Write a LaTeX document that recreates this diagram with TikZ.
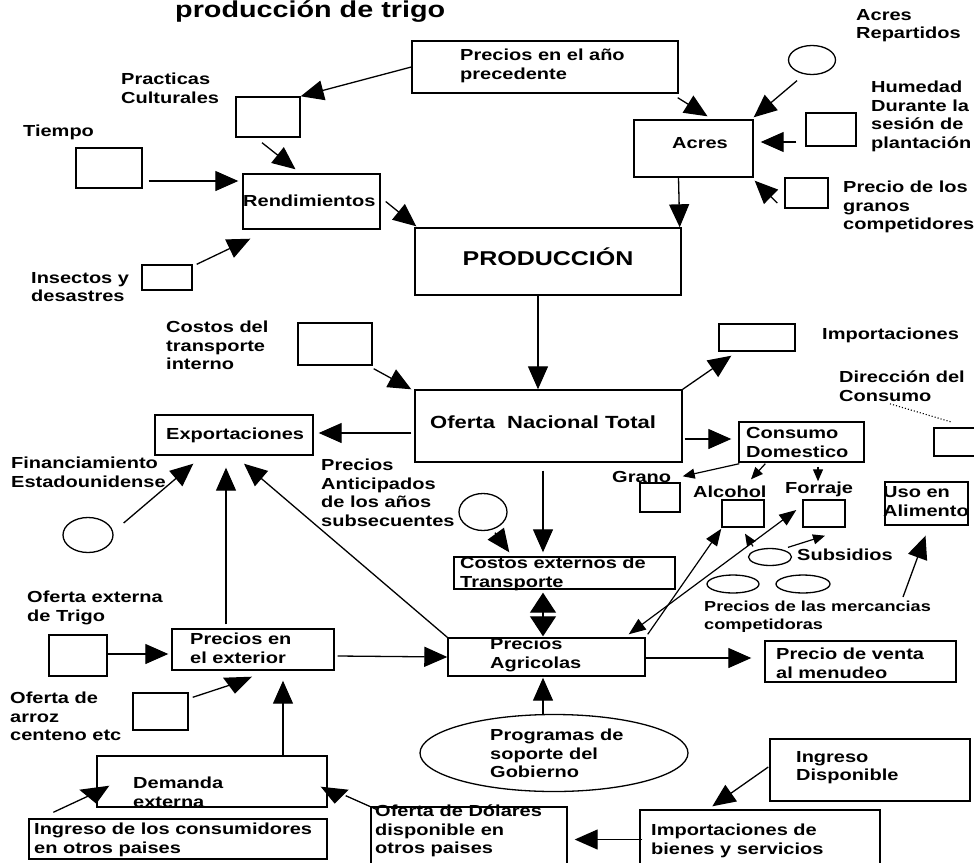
\documentclass[tikz,border=0pt]{standalone}
\usepackage{fontspec}
\setmainfont{Liberation Sans}[FakeStretch=1.25]
\usetikzlibrary{arrows.meta,shapes.geometric,calc}
\newcommand\boxat[5]{\node[box, minimum width={(#4)-(#2)}, minimum height={(#5)-(#3)}] (#1) at ({((#2)+(#4))/2},{((#3)+(#5))/2}) {};}
\newcommand\ellat[5]{\node[ell, minimum width=#4, minimum height=#5] (#1) at (#2,#3) {};}
\tikzset{
  box/.style={draw, line width=1.4pt, inner sep=0pt, rectangle},
  ell/.style={draw, line width=1.3pt, ellipse, inner sep=0pt},
  conn/.style={line width=1.3pt},
  arr/.style={conn, -{Triangle[length=23pt,width=20pt]}},
  marr/.style={line width=1.2pt, -{Triangle[length=17pt,width=13pt]}},
  sarr/.style={line width=1.2pt, -{Triangle[length=12pt,width=10pt]}},
  darr/.style={conn, {Triangle[length=20pt,width=26pt]}-{Triangle[length=20pt,width=26pt]}},
  mdarr/.style={line width=1.2pt, {Triangle[length=17pt,width=13pt]}-{Triangle[length=17pt,width=13pt]}},
  lb/.style={font=\fontsize{16}{18.5}\selectfont\bfseries, align=left, anchor=north west, inner sep=0pt},
  lbs/.style={font=\fontsize{16}{18.5}\selectfont\bfseries, anchor=base west, inner sep=0pt},
  rg/.style={font=\fontsize{16}{19}\selectfont\bfseries, align=left, anchor=north west, inner sep=0pt},
  rgs/.style={font=\fontsize{16}{19}\selectfont\bfseries, anchor=base west, inner sep=0pt},
}
\begin{document}
\begin{tikzpicture}[x=1pt,y=-1pt]
\useasboundingbox (0,0) rectangle (974,862);
\fill[white] (0,0) rectangle (974,862);

% title
\node[font=\fontsize{23}{26}\selectfont\bfseries, anchor=base west, inner sep=0pt] (title) at (175,17) {producción de trigo};

% boxes
\boxat{pyear}{412}{41}{678}{93}
\boxat{pcult}{236}{97}{300}{137}
\boxat{tiempo}{76}{148}{142}{188}
\boxat{rend}{243}{174}{380}{229}
\boxat{insect}{142}{265}{192}{290}
\boxat{prod}{415}{228}{681}{295}
\boxat{acres}{634}{120}{753}{177}
\boxat{hum}{806}{113}{856}{146}
\boxat{pgran}{785}{178}{828}{208}
\boxat{ctrans}{298}{323}{372}{365}
\boxat{oferta}{415}{390}{682}{462}
\boxat{import}{719}{324}{795}{351}
\boxat{export}{155}{415}{313}{455}
\boxat{cext}{454}{557}{675}{589}
\boxat{pagr}{448}{638}{645}{676}
\boxat{pventa}{765}{641}{956}{682}
\boxat{consumo}{739}{422}{864}{462}
\boxat{grano}{640}{483}{680}{512}
\boxat{alcohol}{722}{500}{764}{527}
\boxat{forraje}{803}{500}{845}{527}
\boxat{uso}{885}{482}{968}{525}
\boxat{dir}{934}{428}{990}{456}
\boxat{pext}{172}{629}{334}{670}
\boxat{otrigo}{49}{635}{107}{676}
\boxat{oarroz}{133}{693}{188}{730}
\boxat{demanda}{97}{756}{327}{807}
\boxat{ingcons}{29}{819}{327}{859}
\boxat{dolares}{371}{807}{567}{875}
\boxat{impbs}{640}{810}{880}{875}
\boxat{ingdisp}{770}{739}{970}{801}

% ellipses
\ellat{erep}{812}{60}{47}{29}
\ellat{efin}{88}{535}{50}{35}
\ellat{eant}{483}{512}{48}{37}
\ellat{esub}{770}{557}{43}{17}
\ellat{ecompa}{733}{584}{52}{18}
\ellat{ecompb}{803}{584}{54}{18}
\ellat{eprog}{554}{753}{268}{77}

% labels
\node[lb] (tpcult) at (121,73) {Practicas\\Culturales};
\node[lbs] (ttiempo) at (23,136) {Tiempo};
\node[lb] (tinsect) at (31,272) {Insectos y\\desastres};
\node[lb] (trep) at (856,9) {Acres\\Repartidos};
\node[lb] (thum) at (871,81) {Humedad\\Durante la\\sesión de\\plantación};
\node[lb] (tpgran) at (843,181) {Precio de los\\granos\\competidores};
\node[lb] (tctrans) at (166,321) {Costos del\\transporte\\interno};
\node[lbs] (timport) at (822,339) {Importaciones};
\node[lb] (tfin) at (11,457) {Financiamiento\\Estadounidense};
\node[lb] (tant) at (321,459) {Precios\\Anticipados\\de los años\\subsecuentes};
\node[lb] (dirl) at (839,371) {Dirección del\\Consumo};
\node[lbs] (tsub) at (797,560) {Subsidios};
\node[lb, font=\fontsize{14.5}{17.5}\selectfont\bfseries] (tcomp) at (704,601) {Precios de las mercancias\\competidoras};
\node[lb] (totrigo) at (27,591) {Oferta externa\\de Trigo};
\node[lb] (toarroz) at (10,692) {Oferta de\\arroz\\centeno etc};

% box texts
\node[lb] (tpyear) at (460,49) {Precios en el año\\precedente};
\node[font=\fontsize{16}{18.5}\selectfont\bfseries, inner sep=0pt] (tacres) at (700,143) {Acres};
\node[rgs] (trend) at (243,206) {Rendimientos};
\node[font=\fontsize{20}{22}\selectfont\bfseries, anchor=base, inner sep=0pt] (tprod) at (548,265) {PRODUCCIÓN};
\node[font=\fontsize{17.6}{21}\selectfont\bfseries, anchor=base west, inner sep=0pt] (toferta) at (430,428) {Oferta\ \ Nacional Total};
\node[lbs] (texport) at (166,439) {Exportaciones};
\node[rg] (tconsumo) at (746,427) {Consumo\\Domestico};
\node[rgs] (tgrano) at (612,482) {Grano};
\node[rgs] (talcohol) at (693,497) {Alcohol};
\node[rgs] (tforraje) at (785,493) {Forraje};
\node[rg] (tuso) at (883,486) {Uso en\\Alimento};
\node[rg] (tcext) at (460,557) {Costos externos de\\Transporte};
\node[rg] (tpagr) at (490,638) {Precios\\Agricolas};
\node[rg] (tpventa) at (776,648) {Precio de venta\\al menudeo};
\node[lb] (tprog) at (490,729) {Programas de\\soporte del\\Gobierno};
\node[lb] (tpext) at (190,633) {Precios en\\el exterior};
\node[rg] (tdemanda) at (133,777) {Demanda\\externa};
\node[rg] (tingcons) at (34,823) {Ingreso de los consumidores\\en otros paises};
\node[lb] (tdolares) at (375,805) {Oferta de Dólares\\disponible en\\otros paises};
\node[lb] (timpbs) at (651,824) {Importaciones de\\bienes y servicios};
\node[lb] (tingdisp) at (796,751) {Ingreso\\Disponible};

% connectors
\draw[arr] (pyear.west) -- (pcult.north east);
\draw[arr] ($(pcult.south)+(-6,5)$) -- ($(rend.north)+(-16,-4)$);
\draw[arr] ($(tiempo.east)+(6,13)$) -- ($(rend.west)+(-4,-20.5)$);
\draw[arr] ($(insect.north east)+(4,0)$) -- ($(rend.south west)+(8,9)$);
\draw[arr] ($(rend.east)+(5,0)$) -- ($(prod.north west)+(2,-1)$);
\draw[arr] ($(acres.south)+(-15,0)$) -- ($(prod.north east)+(-2,0)$);
\draw[arr] ($(pyear.south east)+(-1,4)$) -- ($(acres.north)+(14,-3)$);
\draw[arr] ($(erep.south)+(-15,5.5)$) -- ($(acres.north east)+(0,-2)$);
\draw[arr] ($(hum.west)+(-9,12.5)$) -- ($(acres.east)+(7,-6.5)$);
\draw[arr] ($(pgran.west)+(-7,10)$) -- ($(acres.south east)+(1,3)$);
\draw[arr] ($(prod.south)+(-10,0)$) -- ($(oferta.north)+(-10.5,0)$);
\draw[arr] ($(ctrans.south east)+(1,3)$) -- ($(oferta.north west)+(-3,0)$);
\draw[arr] (oferta.north east) -- ($(import.south west)+(13,4)$);
\draw[arr] ($(oferta.west)+(-3,7)$) -- ($(export.east)+(5,-2)$);
\draw[arr] ($(oferta.east)+(2,13)$) -- ($(consumo.west)+(-7,-3)$);
\draw[arr] ($(oferta.south)+(-5.5,8)$) -- ($(cext.north)+(-21.5,-4)$);
\draw[arr] ($(eant.south)+(12,1.5)$) -- ($(cext.north west)+(56,-4)$);
\draw[darr] ($(cext.south)+(-21.5,3)$) -- ($(pagr.north)+(-3.5,-1)$);
\draw[arr] ($(pext.east)+(3,6.5)$) -- (pagr.west);
\draw[arr] ($(pagr.east)+(0,1)$) -- ($(pventa.west)+(-13,-3.5)$);
\draw[arr] ($(eprog.north)+(-11,0)$) -- ($(pagr.south)+(-3.5,1)$);
\draw[arr] ($(pext.north)+(-27,-4)$) -- ($(export.south)+(-8,12)$);
\draw[arr] (pagr.north west) -- ($(export.south)+(10,8)$);
\draw[arr] ($(efin.east)+(10,-12)$) -- ($(export.south west)+(39,8)$);
\draw[sarr] ($(consumo.south west)+(1,1)$) -- ($(grano.north east)+(2,-6)$);
\draw[sarr] ($(consumo.south west)+(27,1)$) -- ($(alcohol.north)+(8,-20)$);
\draw[sarr] ($(consumo.south)+(16.5,4)$) -- ($(forraje.north)+(-6,-18)$);
\draw[marr] ($(pagr.north east)+(2,-3)$) -- ($(alcohol.south west)+(0,1)$);
\draw[mdarr] ($(forraje.west)+(-6,-3.5)$) -- ($(pagr.north east)+(-17,-3)$);
\draw[sarr] ($(esub.north)+(-17,-1.5)$) -- ($(alcohol.south)+(2,6)$);
\draw[sarr] ($(esub.north)+(18,-0.5)$) -- ($(forraje.south)+(1,8)$);
\coordinate (usotail) at (903,597);
\draw[arr] (usotail) -- ($(uso.south)+(-1,10)$);
\draw[dotted, line width=1.1pt] ($(dirl.south)+(-12,2)$) -- ($(dir.north west)+(19,-5)$);
\draw[arr] ($(otrigo.east)+(0,-1.5)$) -- ($(pext.west)+(-3,4.5)$);
\draw[arr] ($(demanda.north)+(71,0)$) -- ($(pext.south)+(30,10)$);
\draw[arr] ($(impbs.west)+(3,-3)$) -- ($(dolares.east)+(7,-1.5)$);
\draw[arr] ($(ingdisp.west)+(-1,-3)$) -- ($(impbs.north west)+(73,-3)$);

% connectors with heads drawn as in the source
\draw[conn] ($(oarroz.north east)+(4,5)$) -- ($(pext.south)+(-22,14)$);
\fill ($(pext.south)+(-30,7)$) -- ($(pext.south)+(-1,6)$) -- ($(pext.south)+(-18,23)$) -- cycle;
\draw[conn] ($(ingcons.north west)+(25,-6)$) -- ($(demanda.south west)+(-3,-14)$);
\fill ($(demanda.south west)+(-17,-18)$) -- ($(demanda.south west)+(13,-22)$) -- ($(demanda.south west)+(0,-4)$) -- cycle;
\draw[conn] ($(dolares.north west)+(6,3)$) -- ($(demanda.south east)+(18,-12)$);
\fill ($(demanda.south east)+(-7,-21)$) -- ($(demanda.south east)+(21,-18)$) -- ($(demanda.south east)+(7,-4)$) -- cycle;
\end{tikzpicture}
\end{document}
